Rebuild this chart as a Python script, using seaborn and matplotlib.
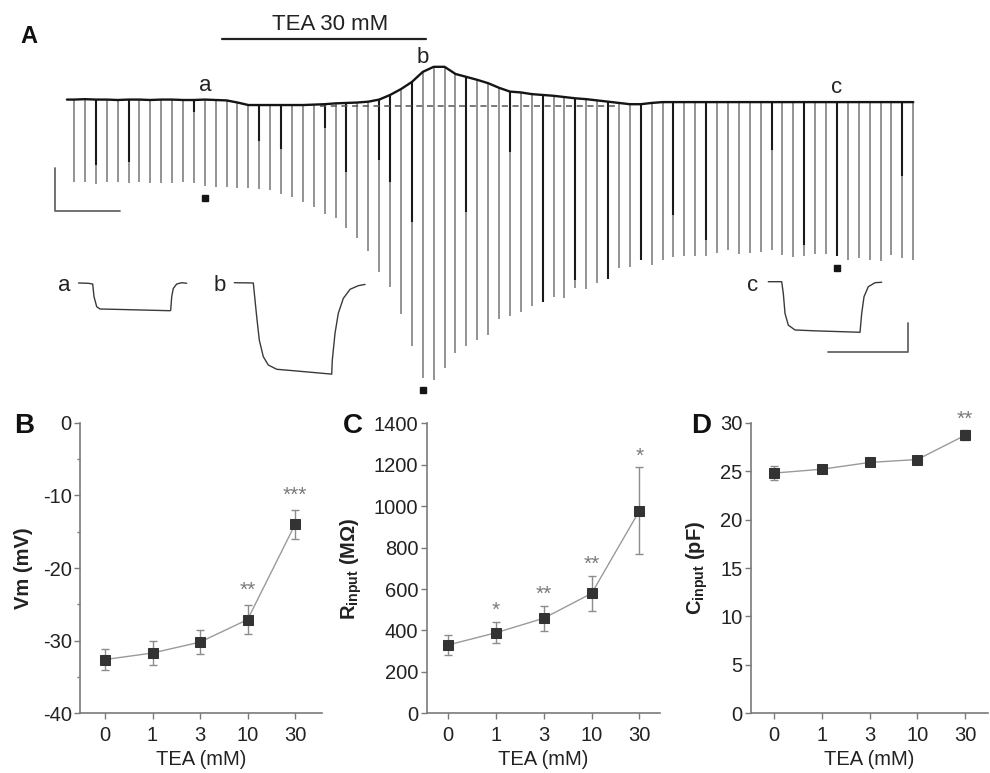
import matplotlib
import numpy as np
import seaborn as sns

matplotlib.use("Agg")
import matplotlib.pyplot as plt

W, H = 990, 773

# ---- Panel A: whole-cell trace, one hyperpolarizing pulse every 10 s ----
PULSE_INTERVAL_S = 10
# membrane potential at each pulse (mV, relative to the control resting level)
pulse_base = [
    0.1, 0.2, 0.1, 0.1, 0.0, 0.1, 0.1, 0.0, 0.1, 0.1, 0.0, 0.0, 0.1, 0.0, -0.1,
    -0.6, -1.2, -1.2, -1.2, -1.2, -1.2, -1.2, -1.1, -1.0, -0.8, -0.7, -0.6, -0.4,
    0.1, 1.2, 2.6, 4.3, 6.7, 7.9, 7.9, 6.2, 5.5, 4.8, 4.0, 2.9, 2.0, 1.8, 1.4,
    1.2, 1.0, 0.7, 0.4, 0.2, -0.1, -0.4, -0.7, -1.0, -1.0, -0.7, -0.5,
    -0.5, -0.5, -0.5, -0.5, -0.5, -0.5, -0.5, -0.5, -0.5, -0.5, -0.5, -0.5,
    -0.5, -0.5, -0.5, -0.5, -0.5, -0.5, -0.5, -0.5, -0.5, -0.5, -0.5,
]
# peak of the voltage response to each pulse (mV)
pulse_bottom = [
    -19.5, -19.5, -20.0, -19.5, -19.5, -19.7, -19.6, -19.8, -19.8, -19.8, -19.6,
    -19.8, -20.5, -20.6, -20.8, -21.0, -21.0, -21.3, -21.4, -22.4, -23.1, -24.2,
    -25.4, -27.1, -28.1, -30.4, -32.8, -36.0, -40.9, -44.6, -51.0, -58.6, -66.3,
    -66.7, -63.9, -60.2, -58.6, -57.1, -56.0, -52.2, -51.4, -50.4, -49.0, -48.0,
    -47.0, -47.2, -44.8, -45.1, -43.6, -42.7, -40.1, -39.8, -38.1, -39.3, -38.1,
    -37.5, -37.1, -37.1, -37.1, -36.5, -35.7, -36.7, -36.5, -36.1, -35.7, -36.9,
    -37.5, -37.1, -36.7, -36.7, -37.1, -38.1, -37.7, -38.1, -38.3, -36.9, -37.7,
    -38.1,
]
# pulses overlaid by a darker sweep segment
dark_idx = [2, 5, 11, 17, 19, 23, 25, 28, 29, 31, 36, 40, 43, 46, 49, 52, 55, 58, 64, 67, 70, 76]
dark_bottom = [-15.5, -14.8, -2.9, -9.8, -11.7, -6.7, -17.1, -14.3, -19.5, -29.0, -26.7,
               -12.4, -48.0, -42.9, -42.6, -38.1, -27.4, -33.3, -11.9, -34.5, -37.1, -18.1]
trace_start_t, trace_start_v = -6.5, 0.1
rest_mv = -1.5
tea_on_s, tea_off_s = 135.5, 323.0
sample_idx = {"a": 12, "b": 32, "c": 70}

# averaged responses a, b, c (time in ms, voltage in mV)
ins_a_t = [0, 24.5, 35.5, 38.8, 45.5, 53.8, 86.3, 228.8, 230.5, 233, 237, 245.5, 258, 270.5]
ins_a_v = [0, -0.1, -0.35, -4.8, -8.3, -9.1, -9.2, -9.7, -9.5, -4.8, -1.9, -0.35, 0.1, -0.1]
ins_b_t = [0, 47.5, 51.8, 56, 62.5, 72.5, 85, 106, 147.5, 243.5, 245, 251.8, 260, 272.5, 289.5, 310, 326.8]
ins_b_v = [0, -0.1, -6.1, -11.9, -20.1, -25.9, -28.8, -30.3, -30.8, -32.0, -27.1, -17.7, -10.7, -5.5, -2.3, -1.05, -0.6]
ins_c_t = [0, 33.5, 37.5, 41.8, 50, 66.8, 116.8, 229.3, 233.5, 239.3, 250, 266.8, 283.5]
ins_c_v = [0, 0, -4.1, -11.1, -15.2, -16.9, -17.2, -17.7, -11.1, -5.25, -1.75, -0.35, -0.2]

# ---- Panels B-D: summary data (mean +/- SEM) ----
tea_labels = ["0", "1", "3", "10", "30"]
vm_mean = [-32.6, -31.7, -30.2, -27.1, -14.0]
vm_sem = [1.45, 1.6, 1.65, 2.0, 2.0]
vm_stars = ["", "", "", "**", "***"]
rin_mean = [330, 389, 459, 579, 978]
rin_sem = [48, 52, 60, 86, 209]
rin_stars = ["", "*", "**", "**", "*"]
cin_mean = [24.8, 25.2, 25.9, 26.2, 28.7]
cin_sem = [0.7, 0.3, 0.3, 0.25, 0.5]
cin_stars = ["", "", "", "", "**"]

TXT = "#222222"
AXC = "#7a7a7a"


def px_rect(x0, y0, x1, y1):
    return [x0 / W, 1 - y1 / H, (x1 - x0) / W, (y1 - y0) / H]


def fig_text(fig, x, y, s, **kw):
    fig.text(x / W, 1 - y / H, s, **kw)


def inset_axes(fig, anchor, box, ms_per_px=2.5, mv_per_px=0.35):
    ax_, ay_ = anchor
    x0, y0, x1, y1 = box
    ax = fig.add_axes(px_rect(x0, y0, x1, y1))
    ax.set_xlim((x0 - ax_) * ms_per_px, (x1 - ax_) * ms_per_px)
    ax.set_ylim(-(y1 - ay_) * mv_per_px, -(y0 - ay_) * mv_per_px)
    ax.axis("off")
    return ax


def summary_panel(fig, box, xlim, mean, sem, stars, star_pad, ylim, yticks, ylabel, minor=None):
    ax = fig.add_axes(px_rect(*box))
    x = np.arange(len(mean))
    ax.errorbar(x, mean, yerr=sem, fmt="none", ecolor="#8c8c8c", elinewidth=1.0,
                capsize=3.2, capthick=1.0, zorder=2)
    sns.lineplot(x=x, y=mean, ax=ax, color="#9a9a9a", lw=1.0, marker="s", markersize=7.2,
                 markerfacecolor="#333333", markeredgecolor="#333333", zorder=3)
    for xi, m, s, st in zip(x, mean, sem, stars):
        if st:
            ax.text(xi, m + s + star_pad, st, ha="center", va="center", fontsize=15,
                    color="#7a7a7a", clip_on=False)
    ax.set_xlim(*xlim)
    ax.set_ylim(*ylim)
    ax.set_xticks(x, tea_labels)
    ax.set_yticks(yticks)
    if minor is not None:
        ax.set_yticks(minor, minor=True)
    sns.despine(ax=ax)
    for sp in ("left", "bottom"):
        ax.spines[sp].set_color(AXC)
        ax.spines[sp].set_linewidth(1.2)
    ax.tick_params(which="major", direction="out", length=4, width=1.0, color=AXC,
                   labelsize=14.5, labelcolor=TXT)
    ax.tick_params(which="minor", direction="out", length=2.5, width=1.0, color=AXC)
    ax.tick_params(axis="x", pad=5)
    ax.tick_params(axis="y", pad=2)
    ax.set_xlabel("TEA (mM)", fontsize=14.5, color=TXT, labelpad=4)
    ax.set_ylabel(ylabel, fontsize=14.5, color=TXT, fontweight="bold", labelpad=7)
    ax.grid(False)
    return ax


def main():
    sns.set_theme(style="ticks")
    plt.rcParams["font.family"] = ["Liberation Sans", "DejaVu Sans"]
    plt.rcParams["mathtext.fontset"] = "custom"
    plt.rcParams["mathtext.rm"] = "Liberation Sans"
    plt.rcParams["mathtext.bf"] = "Liberation Sans:bold"
    plt.rcParams["axes.unicode_minus"] = False

    fig = plt.figure(figsize=(W / 100, H / 100), dpi=100)

    # ----- Panel A -----
    axA = fig.add_axes([0, 0, 1, 1])
    axA.set_xlim(-67.9, 840.4)
    axA.set_ylim(-160.24, 23.81)
    axA.axis("off")
    base = np.array(pulse_base)
    bottom = np.array(pulse_bottom)
    t = np.arange(len(base)) * PULSE_INTERVAL_S
    axA.vlines(t, bottom, base, colors="#8e8e8e", lw=1.35, zorder=1)
    d_idx = np.array(dark_idx)
    axA.vlines(t[d_idx], np.array(dark_bottom), base[d_idx], colors="#1a1a1a", lw=1.5, zorder=2)
    sns.lineplot(x=np.r_[trace_start_t, t], y=np.r_[trace_start_v, base], ax=axA,
                 color="#151515", lw=1.7, sort=False, estimator=None, zorder=3)
    axA.hlines(rest_mv, 226, 496, colors="#555555", linestyles=(0, (4, 3)), lw=1.1, zorder=2)

    for lab, i in sample_idx.items():
        axA.plot(t[i], bottom[i] - 2.8, "s", color="#151515", ms=4.2)
        axA.text(t[i], base[i] + 2.1, lab, ha="center", va="baseline", fontsize=16, color=TXT)

    # TEA application bar
    axA.plot([tea_on_s, tea_off_s], [14.5, 14.5], color="#222222", lw=1.6)
    axA.text(235, 16.7, "TEA 30 mM", ha="center", va="baseline", fontsize=16, color=TXT)
    # scale bar: 10 mV, 1 min
    axA.plot([-17.4, -17.4, 42.6], [-16.3, -26.4, -26.4], color="#666666", lw=1.3)

    fig_text(fig, 28.7, 42.7, "A", fontsize=17, fontweight="bold", ha="center",
             va="baseline", color="#111111")

    # ----- insets a, b, c -----
    ins = [
        ("a", ins_a_t, ins_a_v, (78.5, 283.0), (70, 272, 195, 320), 64),
        ("b", ins_b_t, ins_b_v, (234.3, 282.7), (225, 272, 375, 385), 220),
        ("c", ins_c_t, ins_c_v, (768.3, 281.7), (760, 270, 915, 360), 753),
    ]
    for lab, it, iv, anchor, box, lx in ins:
        axi = inset_axes(fig, anchor, box)
        sns.lineplot(x=it, y=iv, ax=axi, color="#3a3a3a", lw=1.0, sort=False, estimator=None)
        fig_text(fig, lx, 291, lab, fontsize=16, ha="center", va="baseline", color=TXT)
        if lab == "c":
            # 200 ms / 10 mV scale bar
            axi.plot([148.5, 348.5, 348.5], [-24.5, -24.5, -14.5], color="#666666", lw=1.3)

    # ----- Panels B, C, D -----
    summary_panel(fig, (80, 422.7, 321.7, 713.3), (-0.526, 4.56), vm_mean, vm_sem,
                  vm_stars, 2.0, (-40, 0), [-40, -30, -20, -10, 0], "Vm (mV)",
                  minor=[-35, -25, -15, -5])
    summary_panel(fig, (426.7, 423.3, 660, 713.3), (-0.45, 4.43), rin_mean, rin_sem,
                  rin_stars, 55, (0, 1400), list(range(0, 1401, 200)),
                  r"$\mathbf{R_{input}}$ (MΩ)")
    summary_panel(fig, (750.7, 422.7, 988, 713.3), (-0.495, 4.48), cin_mean, cin_sem,
                  cin_stars, 1.1, (0, 30), [0, 5, 10, 15, 20, 25, 30],
                  r"$\mathbf{C_{input}}$ (pF)")

    for lab, x in (("B", 24.2), ("C", 352.5), ("D", 701)):
        fig_text(fig, x, 433, lab, fontsize=20, fontweight="bold", ha="center",
                 va="baseline", color="#111111")

    fig.savefig("out.png", dpi=100)
    plt.close(fig)


if __name__ == "__main__":
    main()
